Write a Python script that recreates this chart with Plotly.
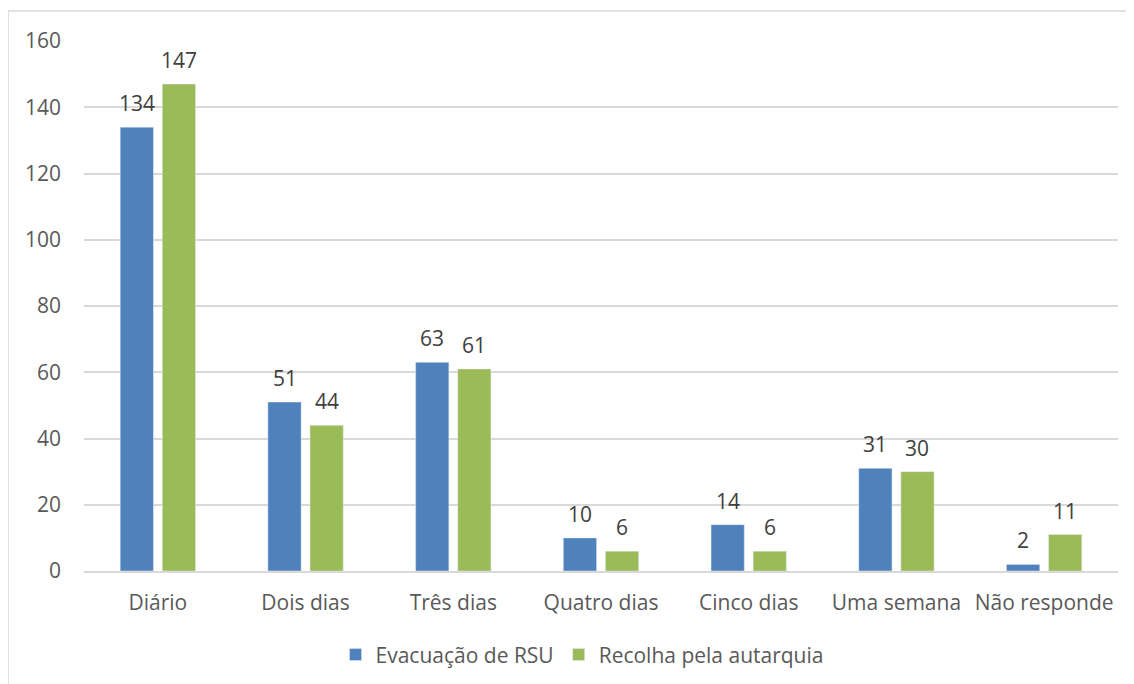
import plotly.graph_objects as go

categories = ["Diário", "Dois dias", "Três dias", "Quatro dias", "Cinco dias", "Uma semana", "Não responde"]
evacuacao = [134, 51, 63, 10, 14, 31, 2]
recolha = [147, 44, 61, 6, 6, 30, 11]

font_family = "Open Sans, Noto Sans, sans-serif"

fig = go.Figure()
fig.add_trace(go.Bar(x=categories, y=evacuacao, name="Evacuação de RSU",
                     marker=dict(color="#4F81BD")))
fig.add_trace(go.Bar(x=categories, y=recolha, name="Recolha pela autarquia",
                     marker=dict(color="#9BBB59")))

# data labels, placed a little above each bar
for series, shift in [(evacuacao, -21), (recolha, 21)]:
    for cat, val in zip(categories, series):
        fig.add_annotation(x=cat, y=val, text=str(val), showarrow=False,
                           xshift=shift, yshift=24, yanchor="middle",
                           font=dict(size=21, color="#404040"))

# outer chart border (only top and left visible, as in the cropped original)
fig.add_shape(type="line", xref="paper", yref="paper",
              x0=-0.0735, x1=1.2, y0=1.0566, y1=1.0566,
              line=dict(color="#D9D9D9", width=1.5))
fig.add_shape(type="line", xref="paper", yref="paper",
              x0=-0.0735, x1=-0.0735, y0=1.0566, y1=-0.4,
              line=dict(color="#D9D9D9", width=1.5))

fig.update_layout(
    width=1126, height=676,
    margin=dict(l=76, r=16, t=33, b=113),
    paper_bgcolor="white", plot_bgcolor="white",
    font=dict(family=font_family, size=21, color="#595959"),
    barmode="group", bargap=0.43, bargroupgap=0.21,
    showlegend=True,
    legend=dict(orientation="h", xref="container", yref="container",
                x=0.5098, xanchor="center", y=0.043, yanchor="middle",
                font=dict(size=21, color="#595959"), itemwidth=30),
    xaxis=dict(showgrid=False, showline=True, linecolor="#D9D9D9", linewidth=1.5,
               ticks="", ticklabelstandoff=12, tickfont=dict(size=21)),
    yaxis=dict(range=[0, 160], dtick=20, showgrid=True, gridcolor="#D9D9D9", gridwidth=1.5,
               zeroline=False, ticks="", ticklabelstandoff=22, tickfont=dict(size=21)),
)

fig.write_html("out.html")
